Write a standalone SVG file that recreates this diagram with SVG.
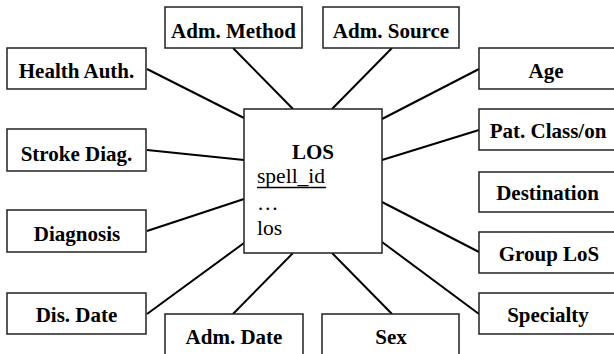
<svg xmlns="http://www.w3.org/2000/svg" width="614" height="354" viewBox="0 0 614 354">
<style>
.box{fill:#fff;stroke:#222;stroke-width:1.5}
.lbl{font-family:'Liberation Serif','Times New Roman',serif;font-size:21px;font-weight:bold;fill:#000;text-anchor:middle}
.attr{font-family:'Liberation Serif','Times New Roman',serif;font-size:21.5px;fill:#000}
.conn line{stroke:#000;stroke-width:2}
</style>
<rect width="614" height="354" fill="#fff"/>
<g class="conn" id="connectors">
<line x1="147" y1="69" x2="244" y2="118"/>
<line x1="233" y1="48" x2="293" y2="109"/>
<line x1="147" y1="150" x2="244" y2="160"/>
<line x1="392" y1="48" x2="332" y2="109"/>
<line x1="479" y1="69" x2="382" y2="119"/>
<line x1="479" y1="130" x2="382" y2="160"/>
<line x1="147" y1="231" x2="244" y2="199"/>
<line x1="147" y1="314" x2="244" y2="243"/>
<line x1="233" y1="314" x2="293" y2="253"/>
<line x1="479" y1="252" x2="382" y2="202"/>
<line x1="479" y1="314" x2="382" y2="242"/>
<line x1="392" y1="314" x2="332" y2="253"/>
</g>
<g id="los">
<rect class="box" x="244" y="109" width="138" height="144"/>
<text class="lbl" x="313" y="159">LOS</text>
<text class="attr" x="257" y="183">spell_id</text>
<line x1="257" y1="187.5" x2="326" y2="187.5" stroke="#000" stroke-width="1.5"/>
<text class="attr" x="257" y="210">…</text>
<text class="attr" x="257" y="235">los</text>
</g>
<g id="adm-method"><rect class="box" x="165" y="7" width="137" height="41"/><text class="lbl" x="233.5" y="38">Adm. Method</text></g>
<g id="adm-source"><rect class="box" x="323" y="7" width="136" height="41"/><text class="lbl" x="391" y="38">Adm. Source</text></g>
<g id="health-auth"><rect class="box" x="7" y="48" width="139" height="41"/><text class="lbl" x="76.5" y="78">Health Auth.</text></g>
<g id="stroke-diag"><rect class="box" x="7" y="129" width="139" height="42"/><text class="lbl" x="76.5" y="161">Stroke Diag.</text></g>
<g id="diagnosis"><rect class="box" x="7" y="210" width="139" height="42"/><text class="lbl" x="77" y="241">Diagnosis</text></g>
<g id="dis-date"><rect class="box" x="7" y="293" width="139" height="41"/><text class="lbl" x="76.5" y="322">Dis. Date</text></g>
<g id="adm-date"><rect class="box" x="165" y="314" width="138" height="46"/><text class="lbl" x="234" y="344">Adm. Date</text></g>
<g id="sex"><rect class="box" x="322" y="314" width="137" height="46"/><text class="lbl" x="391" y="344">Sex</text></g>
<g id="age"><rect class="box" x="479" y="48" width="145" height="41"/><text class="lbl" x="546" y="78">Age</text></g>
<g id="pat-class"><rect class="box" x="479" y="109" width="145" height="41"/><text class="lbl" x="548" y="138">Pat. Class/on</text></g>
<g id="destination"><rect class="box" x="479" y="172" width="145" height="40"/><text class="lbl" x="547.5" y="200">Destination</text></g>
<g id="group-los"><rect class="box" x="479" y="232" width="145" height="41"/><text class="lbl" x="549" y="261">Group LoS</text></g>
<g id="specialty"><rect class="box" x="479" y="293" width="145" height="41"/><text class="lbl" x="548" y="322">Specialty</text></g>
</svg>
